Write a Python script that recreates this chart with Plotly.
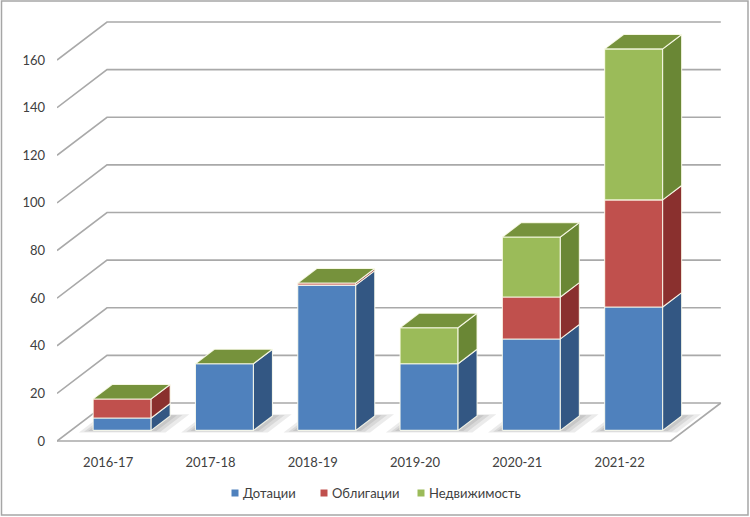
import plotly.graph_objects as go

# ---------------- data ----------------
categories = ["2016-17", "2017-18", "2018-19", "2019-20", "2020-21", "2021-22"]
dotacii = [5.2, 28, 61, 28, 38.4, 51.8]
obligacii = [8, 0, 0.9, 0, 17.6, 45]
nedvizhimost = [0, 0, 0, 15.1, 25.2, 63.4]
series_names = ["Дотации", "Облигации", "Недвижимость"]
y_ticks = [0, 20, 40, 60, 80, 100, 120, 140, 160]

# ---------------- styling / geometry ----------------
W, H = 750, 517
L, R, T, B = 57, 25, 15, 71
PW, PH = W - L - R, H - T - B
SX = 102.3          # px per category
SY = 2.381          # px per value unit
DX = 50 / SX        # depth offset (x units) for full floor depth
DY = 38 / SY        # depth offset (y units)
D1, D2 = 0.28, 0.66  # bar front / back depth fraction
BW = 58 / SX        # bar width
x_range = [0, PW / SX]
y_lo = -(H - B - 441) / SY
y_range = [y_lo, y_lo + PH / SY]

front_col = ["#4F81BD", "#C0504D", "#9BBB59"]
side_col = ["#335783", "#8A302E", "#6A8735"]
top_col = "#76923C"
edge_col = "rgba(255,255,240,0.85)"
grid_col = "#A9A9A9"
FONT = "Lato, Carlito, Calibri, sans-serif"
TXT = "#404040"

fig = go.Figure()


def pt(x, v, d):
    return x + d * DX, v + d * DY


def poly(points, fill, line_col=None, line_w=0):
    xs = [p[0] for p in points] + [points[0][0]]
    ys = [p[1] for p in points] + [points[0][1]]
    fig.add_trace(go.Scatter(
        x=xs, y=ys, mode="lines", fill="toself", fillcolor=fill,
        line=dict(color=line_col if line_col else fill, width=line_w),
        hoverinfo="skip", showlegend=False))


# ---------------- walls / grid ----------------
n = len(categories)
gx, gy = [], []
for v in y_ticks:
    a = pt(0, v, 0)
    b = pt(0, v, 1)
    c = pt(n, v, 1)
    gx += [a[0], b[0], c[0], None]
    gy += [a[1], b[1], c[1], None]
f1, f2, f3 = pt(0, 0, 0), pt(n, 0, 0), pt(n, 0, 1)
gx += [f1[0], f2[0], f3[0], None]
gy += [f1[1], f2[1], f3[1], None]
fig.add_trace(go.Scatter(x=gx, y=gy, mode="lines",
                         line=dict(color=grid_col, width=1.6),
                         hoverinfo="skip", showlegend=False))

# ---------------- bars ----------------
stack = [dotacii, obligacii, nedvizhimost]
for i in range(n):
    xl = i + 0.5 - BW / 2
    xr = i + 0.5 + BW / 2
    for grow in [0.14, 0.09, 0.05]:
        poly([pt(xl - grow * 0.8, 0, D1 - grow * 0.4),
              pt(xr + grow * 1.2, 0, D1 - grow * 0.4),
              pt(xr + grow * 1.2, 0, D2 + grow * 0.3),
              pt(xl - grow * 0.8, 0, D2 + grow * 0.3)],
             "rgba(0,0,0,0.08)")
    base = 0.0
    for s in range(3):
        val = stack[s][i]
        top = base + val
        if val > 0:
            poly([pt(xl, base, D1), pt(xr, base, D1),
                  pt(xr, top, D1), pt(xl, top, D1)],
                 front_col[s], edge_col, 1.1)
            poly([pt(xr, base, D1), pt(xr, base, D2),
                  pt(xr, top, D2), pt(xr, top, D1)],
                 side_col[s], edge_col, 1.1)
        base = top
    poly([pt(xl, base, D1), pt(xr, base, D1),
          pt(xr, base, D2), pt(xl, base, D2)],
         top_col, edge_col, 1.1)


# ---------------- helpers: pixel -> paper ----------------
def px2paper_x(px):
    return (px - L) / PW


def px2paper_y(py):
    return (H - B - py) / PH


# ---------------- legend (squares + text) ----------------
legend_sq_px = [235, 324, 421]
legend_y_px = 493
for s in range(3):
    cx = legend_sq_px[s]
    fig.add_shape(type="rect", xref="paper", yref="paper",
                  x0=px2paper_x(cx - 3.5), x1=px2paper_x(cx + 3.5),
                  y0=px2paper_y(legend_y_px + 3.5), y1=px2paper_y(legend_y_px - 3.5),
                  fillcolor=front_col[s], line=dict(width=0))
    fig.add_annotation(xref="paper", yref="paper",
                       x=px2paper_x(cx + 6), y=px2paper_y(legend_y_px),
                       xanchor="left", yanchor="middle", showarrow=False,
                       text=series_names[s],
                       font=dict(family=FONT, size=13, color=TXT))

# ---------------- outer border ----------------
fig.add_shape(type="rect", xref="paper", yref="paper",
              x0=px2paper_x(1.5), x1=px2paper_x(748),
              y0=px2paper_y(515), y1=px2paper_y(1),
              line=dict(color="#A6A6A6", width=1.5), layer="below")

fig.update_layout(
    width=W, height=H,
    margin=dict(l=L, r=R, t=T, b=B),
    paper_bgcolor="white", plot_bgcolor="white",
    font=dict(family=FONT, size=13, color=TXT),
    showlegend=False,
    xaxis=dict(range=x_range, showgrid=False, zeroline=False, showline=False,
               tickmode="array", tickvals=[i + 0.5 for i in range(n)],
               ticktext=categories, ticks="", fixedrange=True,
               ticklabelstandoff=7,
               tickfont=dict(size=13, color=TXT)),
    yaxis=dict(range=y_range, showgrid=False, zeroline=False, showline=False,
               tickmode="array", tickvals=y_ticks,
               ticktext=[str(v) for v in y_ticks], ticks="",
               ticklabelstandoff=11, fixedrange=True,
               tickfont=dict(size=13, color=TXT)),
)

fig.write_html("out.html")
